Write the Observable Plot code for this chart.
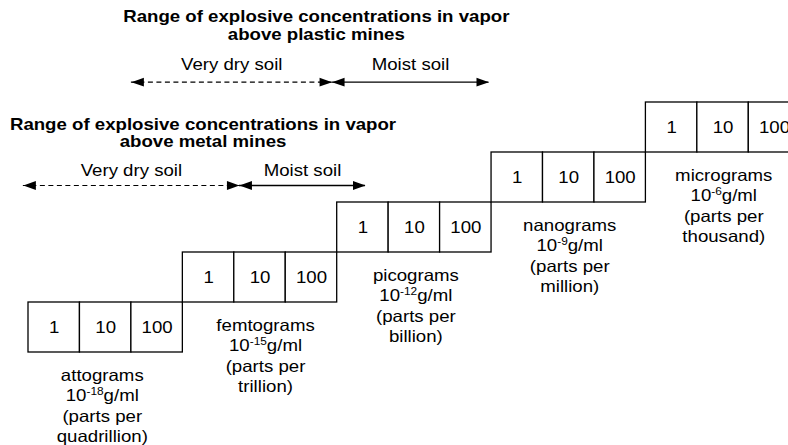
<!DOCTYPE html>
<html><head><meta charset="utf-8">
<script src="https://cdn.jsdelivr.net/npm/d3@7"></script>
<script src="https://cdn.jsdelivr.net/npm/@observablehq/plot@0.6"></script>
<style>html,body{margin:0;padding:0;overflow:hidden;background:#fff}</style>
</head><body><div id="chart"></div>
<script>
// ---- data ----
const units = ["attograms", "femtograms", "picograms", "nanograms", "micrograms"];
const exponents = [-18, -15, -12, -9, -6];
const partsPer = ["quadrillion", "trillion", "billion", "million", "thousand"];
const cellValues = [1, 10, 100];
const mineTypes = ["plastic", "metal"];
const titles = ["Range of explosive concentrations in vapor\nabove plastic mines",
                "Range of explosive concentrations in vapor\nabove metal mines"];
const soilLabels = ["Very dry soil", "Moist soil"];
// ranges in log10(g/ml)
const dryRanges = [[-16, -12.1], [-18.1, -13.9]];
const moistRanges = [[-12.1, -9.05], [-13.9, -11.45]];

// ---- layout ----
const FONT = "'Liberation Sans', Arial, Helvetica, sans-serif";
const FS = 16.5;      // font size
const SX = 1.13;      // horizontal text stretch of the original artwork
const labelShiftPx = [-3.4, 5.5, 1.5, 1, 0.7];
const rowLevel = {plastic: {title: 6.852, label: 5.746, arrow: 5.406, titleX: -12.406},
                  metal: {title: 4.706, label: 3.626, arrow: 3.34, titleX: -14.608}};
const decadePx = (799.75 - 28) / 15;

const groups = units.map((u, i) => ({unit: u, exp: exponents[i], parts: partsPer[i], level: i}));
const cells = groups.flatMap(g => cellValues.map(v => ({value: v, e: g.exp + Math.log10(v), level: g.level})));
const groupLabels = groups.map((g, i) => ({
  text: `${g.unit}\n10${g.exp}g/ml\n(parts per\n${g.parts})`,
  e: g.exp + 1.5 + labelShiftPx[i] / decadePx, level: g.level
}));

const segs = [];
const heads = [];
const labels = [];
mineTypes.forEach((m, i) => {
  const L = rowLevel[m];
  [[dryRanges[i], true, soilLabels[0]], [moistRanges[i], false, soilLabels[1]]].forEach(([r, dashed, name]) => {
    segs.push({x1: r[0], x2: r[1], y: L.arrow, dashed});
    heads.push({x: r[0], y: L.arrow, dir: "left"});
    heads.push({x: r[1], y: L.arrow, dir: "right"});
    labels.push({x: (r[0] + r[1]) / 2, y: L.label, text: name});
  });
});
const titleData = mineTypes.map((m, i) => ({x: rowLevel[m].titleX, y: rowLevel[m].title, text: titles[i]}));

const headRight = {draw(ctx) { ctx.moveTo(0, 0); ctx.lineTo(-12.5, -4.4); ctx.lineTo(-12.5, 4.4); ctx.closePath(); }};
const headLeft = {draw(ctx) { ctx.moveTo(0, 0); ctx.lineTo(12.5, -4.4); ctx.lineTo(12.5, 4.4); ctx.closePath(); }};

const chart = Plot.plot({
  width: 788, height: 445,
  margin: 0,
  style: {fontFamily: FONT, background: "#fff", color: "#000"},
  x: {domain: [-18, -3], range: [28, 799.75], axis: null},
  y: {domain: [0, 5], range: [352, 102], axis: null},
  marks: [
    Plot.rect(cells, {x1: "e", x2: d => d.e + 1, y1: "level", y2: d => d.level + 1,
      fill: "white", stroke: "black", strokeWidth: 1.3}),
    Plot.text(cells, {x: d => d.e + 0.5, y: d => d.level + 0.5, text: d => String(d.value),
      fontSize: FS, fill: "black"}),
    Plot.text(groupLabels, {x: "e", y: d => d.level - 0.29, text: "text", lineAnchor: "top",
      lineHeight: 1.22, fontSize: FS, fill: "black"}),
    Plot.ruleY(segs.filter(d => d.dashed), {y: "y", x1: "x1", x2: "x2", stroke: "black", strokeWidth: 1.2, strokeDasharray: "5,3.5"}),
    Plot.ruleY(segs.filter(d => !d.dashed), {y: "y", x1: "x1", x2: "x2", stroke: "black", strokeWidth: 1.3}),
    Plot.dot(heads.filter(d => d.dir === "right"), {x: "x", y: "y", symbol: headRight, fill: "black", stroke: "none"}),
    Plot.dot(heads.filter(d => d.dir === "left"), {x: "x", y: "y", symbol: headLeft, fill: "black", stroke: "none"}),
    Plot.text(labels, {x: "x", y: "y", text: "text", fontSize: FS, fill: "black"}),
    Plot.text(titleData, {x: "x", y: "y", text: "text", lineAnchor: "top", lineHeight: 1.05,
      fontSize: FS, fontWeight: "bold", fill: "black"})
  ]
});

// superscript exponents (10^-18 g/ml etc.)
const NS = "http://www.w3.org/2000/svg";
d3.select(chart).selectAll("tspan").each(function () {
  const m = /^10(-\d+)g\/ml$/.exec(this.textContent);
  if (!m) return;
  this.textContent = "10";
  const s = document.createElementNS(NS, "tspan");
  s.setAttribute("font-size", "10.5");
  s.setAttribute("dy", "-6.5");
  s.textContent = m[1];
  const r = document.createElementNS(NS, "tspan");
  r.setAttribute("dy", "6.5");
  r.textContent = "g/ml";
  this.append(s, r);
});
// the original artwork's lettering is slightly wide
d3.select(chart).selectAll("text").each(function () {
  const t = this.getAttribute("transform") || "";
  this.setAttribute("transform", `${t} scale(${SX},1)`);
});
document.getElementById("chart").appendChild(chart);
</script>
</body></html>
